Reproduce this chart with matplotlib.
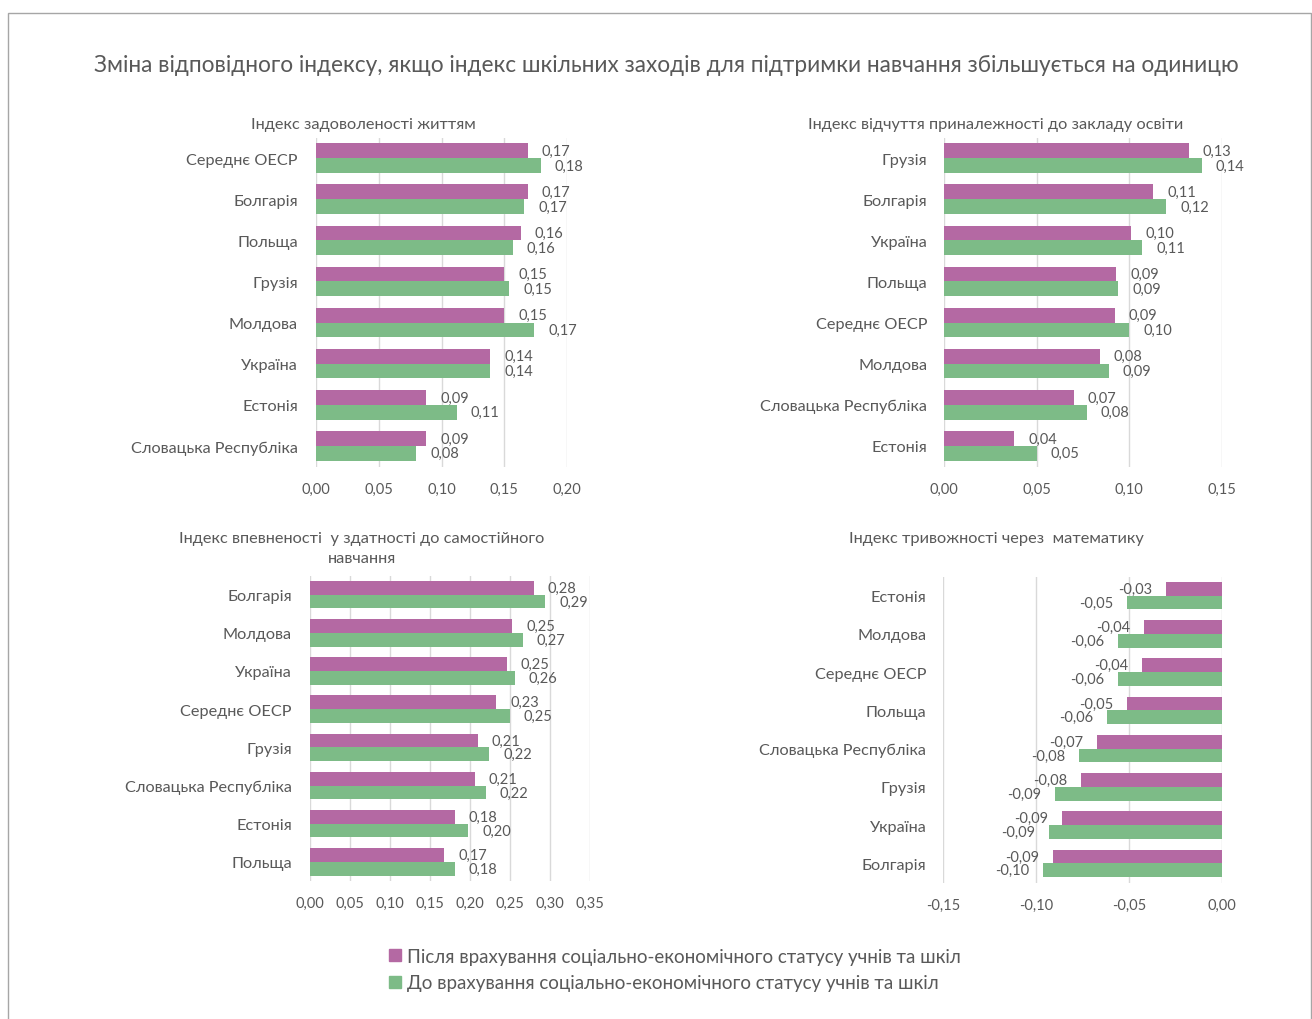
import matplotlib
matplotlib.use("Agg")
import matplotlib.pyplot as plt
from matplotlib.patches import Rectangle
from matplotlib.lines import Line2D

plt.rcParams['font.family'] = ['Lato', 'DejaVu Sans']

W, H = 1312, 1020
PURPLE = '#B469A3'
GREEN = '#7DBB87'
TXT = '#595959'
GRID = '#D9D9D9'

title = "Зміна відповідного індексу, якщо індекс шкільних заходів для підтримки навчання збільшується на одиницю"
series_after = "Після врахування соціально-економічного статусу учнів та шкіл"
series_before = "До врахування соціально-економічного статусу учнів та шкіл"

# Panel 1
p1_title = "Індекс задоволеності життям"
p1_cats = ["Середнє ОЕСР", "Болгарія", "Польща", "Грузія", "Молдова", "Україна", "Естонія", "Словацька Республіка"]
p1_after = [0.169, 0.169, 0.163, 0.150, 0.150, 0.139, 0.088, 0.088]
p1_before = [0.179, 0.166, 0.157, 0.154, 0.174, 0.139, 0.112, 0.080]
p1_ticks = [0.00, 0.05, 0.10, 0.15, 0.20]

# Panel 2
p2_title = "Індекс відчуття приналежності до закладу освіти"
p2_cats = ["Грузія", "Болгарія", "Україна", "Польща", "Середнє ОЕСР", "Молдова", "Словацька Республіка", "Естонія"]
p2_after = [0.132, 0.113, 0.101, 0.093, 0.092, 0.084, 0.070, 0.038]
p2_before = [0.139, 0.120, 0.107, 0.094, 0.100, 0.089, 0.077, 0.050]
p2_ticks = [0.00, 0.05, 0.10, 0.15]

# Panel 3
p3_title = "Індекс впевненості  у здатності до самостійного\nнавчання"
p3_cats = ["Болгарія", "Молдова", "Україна", "Середнє ОЕСР", "Грузія", "Словацька Республіка", "Естонія", "Польща"]
p3_after = [0.280, 0.253, 0.246, 0.233, 0.210, 0.206, 0.181, 0.168]
p3_before = [0.294, 0.266, 0.256, 0.250, 0.224, 0.220, 0.198, 0.181]
p3_ticks = [0.00, 0.05, 0.10, 0.15, 0.20, 0.25, 0.30, 0.35]

# Panel 4
p4_title = "Індекс тривожності через  математику"
p4_cats = ["Естонія", "Молдова", "Середнє ОЕСР", "Польща", "Словацька Республіка", "Грузія", "Україна", "Болгарія"]
p4_after = [-0.030, -0.042, -0.043, -0.051, -0.067, -0.076, -0.086, -0.091]
p4_before = [-0.051, -0.056, -0.056, -0.062, -0.077, -0.090, -0.093, -0.096]
p4_ticks = [-0.15, -0.10, -0.05, 0.00]

fig = plt.figure(figsize=(W / 100, H / 100), dpi=100)

# outer frame
fig.patches.append(Rectangle((8 / W, -0.01), (1311 - 8) / W, 1 - 14 / H + 0.01,
                             transform=fig.transFigure, fill=False,
                             edgecolor='#A6A6A6', linewidth=1.0))

fig.text(666 / W, 1 - 65 / H, title, ha='center', va='center', fontsize=16.3, color=TXT)


def fmt(v):
    return f"{v:.2f}".replace('.', ',')


def panel(rect, cats, after, before, ticks, ptitle, title_xy, ypad=14):
    l, t, r, b = rect
    ax = fig.add_axes([l / W, 1 - b / H, (r - l) / W, (b - t) / H])
    n = len(cats)
    h = 0.36
    ys = list(range(n))
    ax.barh([y - h / 2 for y in ys], after, height=h, color=PURPLE, zorder=3)
    ax.barh([y + h / 2 for y in ys], before, height=h, color=GREEN, zorder=3)
    for y, a, bb in zip(ys, after, before):
        for val, yy in ((a, y - h / 2), (bb, y + h / 2)):
            off = 10 if val >= 0 else -10
            ax.annotate(fmt(val), (val, yy), xytext=(off, 0), textcoords='offset points',
                        ha='left' if val >= 0 else 'right', va='center',
                        fontsize=10.5, color=TXT, zorder=4)
    ax.set_ylim(n - 0.5, -0.5)
    ax.set_xlim(ticks[0], ticks[-1])
    ax.set_xticks(ticks)
    ax.set_xticklabels([fmt(v) for v in ticks], fontsize=10.5, color=TXT)
    ax.set_yticks(ys)
    ax.set_yticklabels(cats, fontsize=11.7, color=TXT)
    ax.tick_params(length=0, axis='x', pad=11)
    ax.tick_params(length=0, axis='y', pad=ypad)
    for s in ax.spines.values():
        s.set_visible(False)
    for tk in ticks:
        ax.axvline(tk, color=GRID, linewidth=1.0, zorder=1)
    ax.set_facecolor('none')
    fig.text(title_xy[0] / W, 1 - title_xy[1] / H, ptitle, ha='center', va='center',
             fontsize=11.8, color=TXT, linespacing=1.5)
    return ax


panel((316, 138.5, 567, 467.5), p1_cats, p1_after, p1_before, p1_ticks, p1_title, (363, 125), 13)
panel((944, 138.5, 1222, 467.5), p2_cats, p2_after, p2_before, p2_ticks, p2_title, (996, 125), 12)
panel((310, 576.5, 590, 882), p3_cats, p3_after, p3_before, p3_ticks, p3_title, (362, 549), 13)
panel((943, 577.5, 1222, 883.5), p4_cats, p4_after, p4_before, p4_ticks, p4_title, (996, 539), 12)

# legend
handles = [Line2D([], [], marker='s', linestyle='none', markersize=9, color=PURPLE),
           Line2D([], [], marker='s', linestyle='none', markersize=9, color=GREEN)]
fig.legend(handles, [series_after, series_before], loc='upper left',
           bbox_to_anchor=(386 / W, 1 - 949 / H), frameon=False, fontsize=13.5,
           labelcolor=TXT, handletextpad=0.1, handlelength=1.0, labelspacing=0.5,
           borderaxespad=0, borderpad=0)

fig.savefig('out.png', dpi=100, facecolor='white')
